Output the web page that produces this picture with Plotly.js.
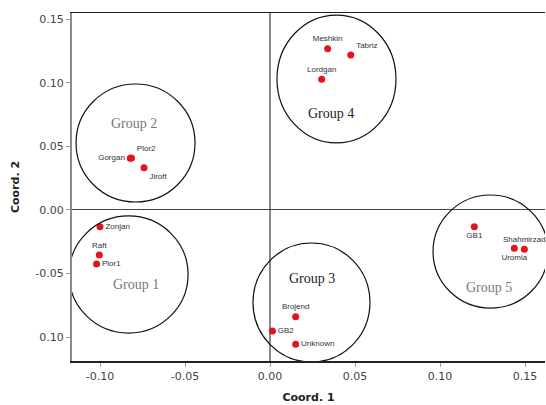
<!DOCTYPE html>
<html>
<head>
<meta charset="utf-8">
<script src="https://cdn.plot.ly/plotly-3.0.1.min.js"></script>
<style>html,body{margin:0;padding:0;background:#fff;}#chart{width:546px;height:405px;}</style>
</head>
<body>
<div id="chart"></div>
<script>
// Data
var names  = ["Meshkin","Tabriz","Lordgan","Plor2","Gorgan","Jiroft","Zonjan","Raft","Plor1","Brojend","GB2","Unknown","GB1","Shahmirzad","Uromia"];
var coord1 = [0.0339, 0.0475, 0.0304, -0.0815, -0.0822, -0.0741, -0.1000, -0.1004, -0.1020, 0.0151, 0.0014, 0.0151, 0.1202, 0.1496, 0.1437];
var coord2 = [0.1270, 0.1220, 0.1030, 0.0410, 0.0407, 0.0333, -0.0131, -0.0354, -0.0425, -0.0840, -0.0953, -0.1058, -0.0131, -0.0310, -0.0302];
var labelPos = ["top center","top right","top center","top right","middle left","bottom right","middle right","top center","middle right","top center","middle right","middle right","bottom center","top center","bottom center"];

var groupNames = ["Group 1","Group 2","Group 3","Group 4","Group 5"];
var groupX0 = [-0.1182, -0.1141, -0.0100, 0.0041, 0.0959];
var groupX1 = [-0.0482, -0.0441, 0.0588, 0.0741, 0.1635];
var groupY0 = [-0.0969, 0.0063, -0.1197, 0.0528, -0.0772];
var groupY1 = [-0.0047, 0.0992, -0.0260, 0.1535, 0.0118];
var groupLabelX = [-0.0790, -0.0800, 0.0245, 0.0360, 0.1290];
var groupLabelY = [-0.0590, 0.0680, -0.0540, 0.0760, -0.0610];
var groupLabelColor = ["#777","#777","#222","#222","#777"];

var xTicks = [-0.10, -0.05, 0.00, 0.05, 0.10, 0.15];
var xTickText = ["-0.10","-0.05","0.00","0.05","0.10","0.15"];
var yTicks = [0.15, 0.10, 0.05, 0.00, -0.05, -0.10];
var yTickText = ["0.15","0.10","0.05","0.00","-0.05","0.10"];

var trace = {
  type: "scatter", mode: "markers+text",
  x: coord1, y: coord2, text: names, textposition: labelPos,
  textfont: {family: "Liberation Sans, Arial, sans-serif", size: 8, color: "#333"},
  marker: {color: "#e3131f", size: 7},
  hoverinfo: "text", cliponaxis: false
};

var shapes = groupNames.map(function(g, i){
  return {type: "circle", xref: "x", yref: "y", x0: groupX0[i], x1: groupX1[i], y0: groupY0[i], y1: groupY1[i],
          line: {color: "#111", width: 1.2}, layer: "above"};
});
var annotations = groupNames.map(function(g, i){
  return {x: groupLabelX[i], y: groupLabelY[i], xref: "x", yref: "y", text: g, showarrow: false,
          font: {family: "Liberation Serif, DejaVu Serif, serif", size: 14, color: groupLabelColor[i]}};
});

var layout = {
  width: 546, height: 405,
  margin: {l: 72, r: 1, t: 13, b: 44},
  paper_bgcolor: "#fff", plot_bgcolor: "#fff",
  showlegend: false,
  xaxis: {
    range: [-0.11647, 0.16176], tickvals: xTicks, ticktext: xTickText,
    showgrid: false, zeroline: true, zerolinecolor: "#8a8a8a", zerolinewidth: 2,
    showline: true, linecolor: "#222", linewidth: 1.5, mirror: true,
    ticks: "outside", ticklen: 4, tickcolor: "#999",
    tickfont: {family: "DejaVu Sans, sans-serif", size: 11, color: "#444"},
    title: {text: "<b>Coord. 1</b>", font: {family: "DejaVu Sans, sans-serif", size: 11, color: "#222"}, standoff: 11}
  },
  yaxis: {
    range: [-0.1189, 0.1551], tickvals: yTicks, ticktext: yTickText,
    showgrid: false, zeroline: true, zerolinecolor: "#444", zerolinewidth: 1,
    showline: true, linecolor: "#8a8a8a", linewidth: 2,
    ticks: "outside", ticklen: 4, tickcolor: "#999",
    tickfont: {family: "DejaVu Sans, sans-serif", size: 11, color: "#444"},
    title: {text: "<b>Coord. 2</b>", font: {family: "DejaVu Sans, sans-serif", size: 11, color: "#222"}, standoff: 13}
  },
  shapes: shapes,
  annotations: annotations
};

Plotly.newPlot("chart", [trace], layout, {staticPlot: true, displayModeBar: false});
</script>
</body>
</html>
